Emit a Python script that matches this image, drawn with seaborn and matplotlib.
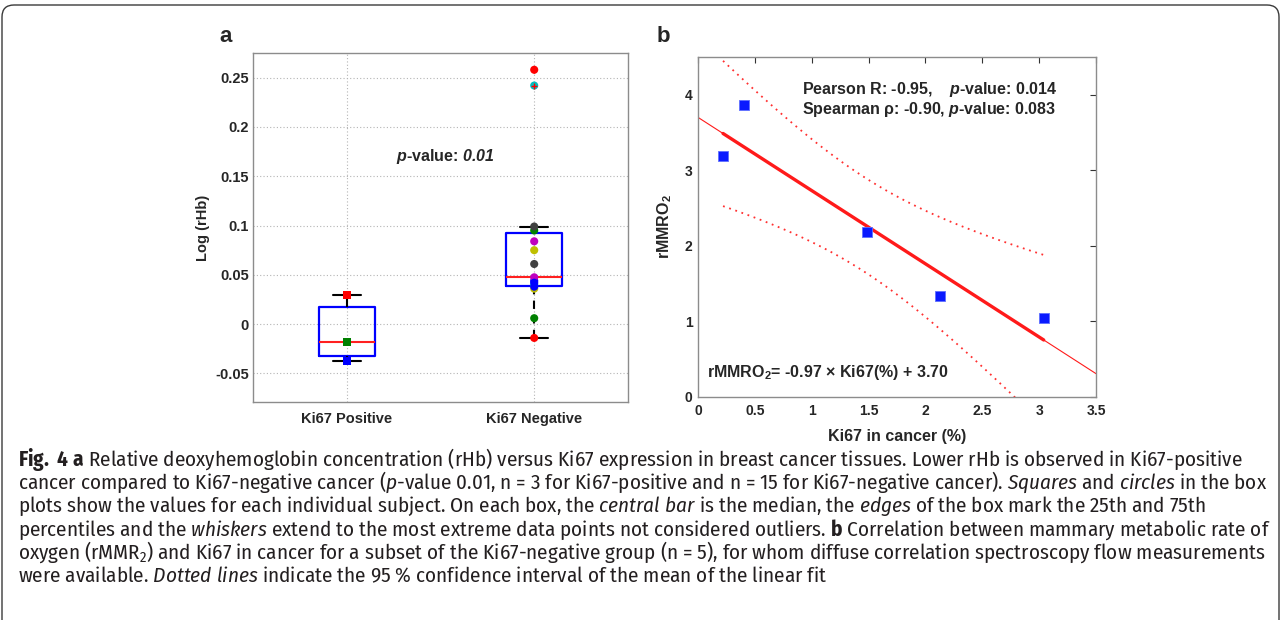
import numpy as np
import pandas as pd
import matplotlib
matplotlib.use('Agg')
import matplotlib.pyplot as plt
import matplotlib.patches as mpatches
from matplotlib import font_manager
from matplotlib.transforms import IdentityTransform
import seaborn as sns

# -------------------- panel a data: log(rHb) per subject --------------------
groups = ['Ki67 Positive', 'Ki67 Negative']
pos_rhb = [0.0295, -0.018, -0.037]
pos_colors = ['#ff0000', '#008000', '#0000ff']
neg_rhb = [0.044, 0.095, 0.258, 0.040, 0.0475, 0.036, 0.061,
           0.042, 0.006, -0.014, 0.242, 0.084, 0.075, 0.099, 0.038]
matlab_cycle = ['#0000ff', '#008000', '#ff0000', '#00bfbf', '#bf00bf', '#bfbf00', '#404040']
neg_colors = matlab_cycle * 2 + ['#0000ff']
yticks_a = [-0.05, 0, 0.05, 0.1, 0.15, 0.2, 0.25]
yticklabels_a = ['-0.05', '0', '0.05', '0.1', '0.15', '0.2', '0.25']

# -------------------- panel b data: rMMRO2 vs Ki67 --------------------
ki67 = [0.22, 0.40, 1.49, 2.13, 3.04]
rmmro2 = [3.19, 3.87, 2.18, 1.33, 1.04]
fit_slope, fit_icpt = -0.97, 3.70
t_975_df3 = 3.182
xticks_b = [0, 0.5, 1, 1.5, 2, 2.5, 3, 3.5]
xticklabels_b = ['0', '0.5', '1', '1.5', '2', '2.5', '3', '3.5']
yticks_b = [0, 1, 2, 3, 4]

caption = [
    r"$\mathbf{Fig.\ 4\ a}$ Relative deoxyhemoglobin concentration (rHb) versus Ki67 expression in breast cancer tissues. Lower rHb is observed in Ki67-positive",
    r"cancer compared to Ki67-negative cancer ($\mathit{p}$-value 0.01, n = 3 for Ki67-positive and n = 15 for Ki67-negative cancer). $\mathit{Squares}$ and $\mathit{circles}$ in the box",
    r"plots show the values for each individual subject. On each box, the $\mathit{central\ bar}$ is the median, the $\mathit{edges}$ of the box mark the 25th and 75th",
    r"percentiles and the $\mathit{whiskers}$ extend to the most extreme data points not considered outliers. $\mathbf{b}$ Correlation between mammary metabolic rate of",
    r"oxygen (rMMR$_2$) and Ki67 in cancer for a subset of the Ki67-negative group (n = 5), for whom diffuse correlation spectroscopy flow measurements",
    r"were available. $\mathit{Dotted\ lines}$ indicate the 95 % confidence interval of the mean of the linear fit",
]


def matlab_box(vals):
    # matlab style quartiles (hazen) and 1.5 IQR whiskers
    v = np.sort(np.asarray(vals))
    q1, med, q3 = np.percentile(v, [25, 50, 75], method='hazen')
    iqr = q3 - q1
    ok = (v >= q1 - 1.5 * iqr) & (v <= q3 + 1.5 * iqr)
    return dict(med=med, q1=q1, q3=q3, whislo=v[ok].min(), whishi=v[ok].max(), fliers=v[~ok])


sns.set_style('white')
names = {f.name for f in font_manager.fontManager.ttflist}
narrow = 'DejaVu Sans'
for cand in ['Fira Sans Condensed', 'Asap Condensed', 'Archivo Narrow', 'Liberation Sans Narrow']:
    if cand in names:
        narrow = cand
        break
plt.rcParams['font.family'] = ['Liberation Sans', 'DejaVu Sans']
plt.rcParams['mathtext.fontset'] = 'custom'
plt.rcParams['mathtext.default'] = 'regular'
plt.rcParams['mathtext.rm'] = narrow
plt.rcParams['mathtext.it'] = narrow + ':italic'
plt.rcParams['mathtext.bf'] = narrow + ':bold'
plt.rcParams['mathtext.bfit'] = 'Liberation Sans:italic:bold'

fig = plt.figure(figsize=(12.81, 6.2), dpi=100)
frame_col = '#8c8c8c'

# -------------------- panel a --------------------
ax1 = fig.add_axes([0.1975, 0.3516, 0.2927, 0.5629])
stats = [matlab_box(pos_rhb), matlab_box(neg_rhb)]
ax1.bxp(stats, positions=[1, 2], widths=0.3, showfliers=True,
        boxprops=dict(color='#0000ff', lw=1.6),
        medianprops=dict(color='#ff2020', lw=1.5),
        whiskerprops=dict(color='black', lw=1.5, linestyle=(0, (4, 3))),
        capprops=dict(color='black', lw=1.5),
        flierprops=dict(marker='+', markeredgecolor='#ff0000', markersize=5, zorder=6),
        zorder=3)

df_a = pd.DataFrame({'pos': [1] * len(pos_rhb) + [2] * len(neg_rhb),
                     'val': pos_rhb + neg_rhb,
                     'color': pos_colors + neg_colors})
pal = {c: c for c in df_a['color'].unique()}
sns.scatterplot(data=df_a[df_a['pos'] == 1], x='pos', y='val', hue='color', palette=pal,
                marker='s', s=32, linewidth=0, legend=False, ax=ax1, zorder=4)
sns.scatterplot(data=df_a[df_a['pos'] == 2], x='pos', y='val', hue='color', palette=pal,
                marker='o', s=34, linewidth=0, legend=False, ax=ax1, zorder=4)

ax1.set_xlim(0.5, 2.5)
ax1.set_ylim(-0.079, 0.275)
ax1.set_xticks([1, 2])
ax1.set_xticklabels(groups, fontsize=10.5, fontweight='bold')
ax1.set_yticks(yticks_a)
ax1.set_yticklabels(yticklabels_a, fontsize=10.5, fontweight='bold')
ax1.grid(True, color='#b4b4b4', linestyle=(0, (1, 2)), lw=0.8)
ax1.set_axisbelow(True)
ax1.tick_params(axis='both', direction='in', length=0, pad=3)
ax1.tick_params(axis='x', pad=7)
ax1.set_xlabel('')
ax1.set_ylabel('Log (rHb)', fontsize=10.5, fontweight='bold', labelpad=4)
for s in ax1.spines.values():
    s.set_color(frame_col)
    s.set_linewidth(1.0)
ax1.text(0.512, 0.703, r'$\mathbfit{p}$-value: $\mathbfit{0.01}$', transform=ax1.transAxes,
         ha='center', va='center', fontsize=11.5, fontweight='bold')

# -------------------- panel b --------------------
ax2 = fig.add_axes([0.5449, 0.3602, 0.3107, 0.5479])
x = np.asarray(ki67)
y = np.asarray(rmmro2)
resid = y - (fit_slope * x + fit_icpt)
s_err = np.sqrt(np.sum(resid ** 2) / (len(x) - 2))
sxx = np.sum((x - x.mean()) ** 2)

xs_full = np.linspace(0, 3.5, 60)
xs = np.linspace(x.min(), x.max(), 60)
half = t_975_df3 * s_err * np.sqrt(1 / len(x) + (xs - x.mean()) ** 2 / sxx)
fit_in = fit_slope * xs + fit_icpt

sns.lineplot(x=xs_full, y=fit_slope * xs_full + fit_icpt, color='#ff1a1a', lw=0.8, ax=ax2)
sns.lineplot(x=xs, y=fit_in, color='#ff1a1a', lw=2.4, ax=ax2)
sns.lineplot(x=xs, y=fit_in + half, color='#ff3030', lw=1.3, linestyle=(0, (1, 2.6)), ax=ax2)
sns.lineplot(x=xs, y=fit_in - half, color='#ff3030', lw=1.3, linestyle=(0, (1, 2.6)), ax=ax2)
sns.scatterplot(x=ki67, y=rmmro2, marker='s', s=55, color='#0a1aff',
                edgecolor='#6070ff', linewidth=0.6, ax=ax2, zorder=5)

ax2.set_xlim(0, 3.5)
ax2.set_ylim(0, 4.5)
ax2.set_xticks(xticks_b)
ax2.set_xticklabels(xticklabels_b, fontsize=10, fontweight='bold')
ax2.set_yticks(yticks_b)
ax2.set_yticklabels([str(v) for v in yticks_b], fontsize=10, fontweight='bold')
ax2.tick_params(axis='both', direction='in', length=4, width=0.8, color='#333333',
                top=True, right=True, pad=4)
ax2.tick_params(axis='x', pad=5)
ax2.set_xlabel('Ki67 in cancer (%)', fontsize=11.5, fontweight='bold', labelpad=8)
ax2.set_ylabel('rMMRO$_2$', fontsize=11.5, fontweight='bold', labelpad=8)
for s in ax2.spines.values():
    s.set_color(frame_col)
    s.set_linewidth(1.0)
ax2.text(0.2606, 0.903, r'Pearson R: -0.95,    $\mathbfit{p}$-value: 0.014', transform=ax2.transAxes,
         ha='left', va='center', fontsize=11.5, fontweight='bold')
ax2.text(0.2606, 0.844, r'Spearman ρ: -0.90, $\mathbfit{p}$-value: 0.083', transform=ax2.transAxes,
         ha='left', va='center', fontsize=11.5, fontweight='bold')
ax2.text(0.022, 0.07, 'rMMRO$_2$= -0.97 × Ki67(%) + 3.70', transform=ax2.transAxes,
         ha='left', va='center', fontsize=11.5, fontweight='bold')

# panel letters
fig.text(226 / 1281, (620 - 37) / 620, 'a', fontsize=16, fontweight='bold', ha='center', va='center')
fig.text(663 / 1281, (620 - 37) / 620, 'b', fontsize=16, fontweight='bold', ha='center', va='center')

# -------------------- caption --------------------
cap_texts = []
for i, line in enumerate(caption):
    base = 466 + 23.2 * i
    t = fig.text(18 / 1281, (620 - base) / 620, line, fontfamily=narrow, fontsize=12,
                 fontweight='normal', color='#231f20', ha='left', va='baseline')
    cap_texts.append(t)
fig.canvas.draw()
w = cap_texts[1].get_window_extent().width
fs = 12 * 1250 / w
for t in cap_texts:
    t.set_fontsize(fs)

# rounded outer frame
fig.add_artist(mpatches.FancyBboxPatch((2, -40), 1277, 655, boxstyle='round,pad=0,rounding_size=12',
                                       transform=IdentityTransform(), fill=False,
                                       ec='#3a3a3a', lw=1.0))

fig.savefig('out.png', dpi=100)
